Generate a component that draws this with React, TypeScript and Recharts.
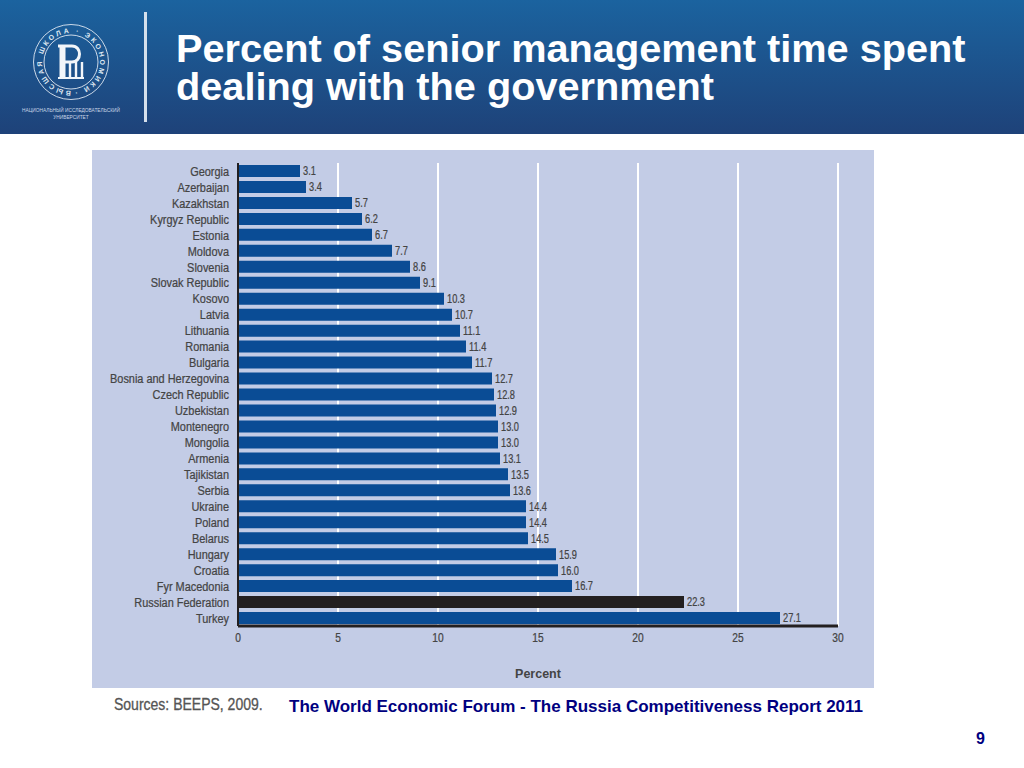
import React from 'react';
import { BarChart, Bar, XAxis, YAxis, CartesianGrid, Cell, LabelList } from 'recharts';

const countries = [
  'Georgia', 'Azerbaijan', 'Kazakhstan', 'Kyrgyz Republic', 'Estonia', 'Moldova', 'Slovenia', 'Slovak Republic',
  'Kosovo', 'Latvia', 'Lithuania', 'Romania', 'Bulgaria', 'Bosnia and Herzegovina', 'Czech Republic', 'Uzbekistan',
  'Montenegro', 'Mongolia', 'Armenia', 'Tajikistan', 'Serbia', 'Ukraine', 'Poland', 'Belarus', 'Hungary', 'Croatia',
  'Fyr Macedonia', 'Russian Federation', 'Turkey',
];
const percents = [
  3.1, 3.4, 5.7, 6.2, 6.7, 7.7, 8.6, 9.1, 10.3, 10.7, 11.1, 11.4, 11.7, 12.7, 12.8, 12.9, 13.0, 13.0, 13.1, 13.5,
  13.6, 14.4, 14.4, 14.5, 15.9, 16.0, 16.7, 22.3, 27.1,
];
const xTicks = [0, 5, 10, 15, 20, 25, 30];
const highlighted = 'Russian Federation';

const data = countries.map((country, i) => ({ country, percent: percents[i] }));

const sans = '"Liberation Sans", Arial, sans-serif';
const inkGrey = '#444';

// no condensed face installed, so the narrow print type is squeezed by hand
const CountryTick = ({ x, y, payload }: any) => (
  <text
    transform={`translate(${x},${y}) scale(0.81,1)`}
    textAnchor="end"
    dy="0.35em"
    fontFamily={sans}
    fontSize={13.5}
    fill={inkGrey}
    stroke={inkGrey}
    strokeWidth={0.25}
  >
    {payload.value}
  </text>
);

const PercentTick = ({ x, y, payload }: any) => (
  <text
    transform={`translate(${x},${y}) scale(0.85,1)`}
    textAnchor="middle"
    dy="0.71em"
    fontFamily={sans}
    fontSize={12}
    fill={inkGrey}
    stroke={inkGrey}
    strokeWidth={0.25}
  >
    {payload.value}
  </text>
);

const ValueLabel = ({ x, y, width, height, value }: any) => (
  <text
    transform={`translate(${x + width + 3},${y + height / 2}) scale(0.74,1)`}
    dy="0.35em"
    fontFamily={sans}
    fontSize={12.5}
    fill={inkGrey}
    stroke={inkGrey}
    strokeWidth={0.25}
  >
    {Number(value).toFixed(1)}
  </text>
);

const Logo = () => (
  <svg width={134} height={134} style={{ position: 'absolute', left: 0, top: 0 }}>
    <defs>
      <path id="ring" d="M 71 91 a 29 29 0 1 1 0.01 0" />
    </defs>
    <circle cx={71} cy={62} r={37.5} fill="none" stroke="#dfe8f2" strokeWidth={0.9} />
    <circle cx={71} cy={62} r={27} fill="none" stroke="#dfe8f2" strokeWidth={0.9} />
    <text fontSize={7} fontWeight={700} fill="#dfe8f2" fontFamily={sans}>
      <textPath href="#ring" textLength={178}>ВЫСШАЯ ШКОЛА · ЭКОНОМИКИ ·</textPath>
    </text>
    <g fill="none" stroke="#f2f6fa">
      <path d="M58 46 H72 C82 46 82 62 72 62 H64" strokeWidth={3} />
      <path d="M62.5 46 V78" strokeWidth={6} />
      <path d="M70 62 V77 M76 62 V77 M82 62 V77" strokeWidth={2.4} />
      <path d="M58 78 H84" strokeWidth={2} />
    </g>
    <text x={71} y={112} textAnchor="middle" fontSize={4.8} fontFamily={sans} fill="#c9d6e6">
      НАЦИОНАЛЬНЫЙ ИССЛЕДОВАТЕЛЬСКИЙ
    </text>
    <text x={71} y={118.5} textAnchor="middle" fontSize={4.8} fontFamily={sans} fill="#c9d6e6">
      УНИВЕРСИТЕТ
    </text>
  </svg>
);

export default function App() {
  return (
    <div style={{ position: 'absolute', left: 0, top: 0, width: 1024, height: 768, background: '#fff', overflow: 'hidden' }}>
      <div
        style={{
          position: 'absolute', left: 0, top: 0, width: 1024, height: 134,
          background: 'linear-gradient(180deg, #1b639f 0%, #1e4279 100%)',
        }}
      >
        <Logo />
        <div style={{ position: 'absolute', left: 144, top: 12, width: 3, height: 110, background: '#d5e0ec' }} />
        <div
          style={{
            position: 'absolute', left: 176, top: 29, width: 840, color: '#fff',
            fontFamily: sans, fontWeight: 700, fontSize: 39.7, lineHeight: '38px',
          }}
        >
          Percent of senior management time spent
          <br />
          dealing with the government
        </div>
      </div>

      <div style={{ position: 'absolute', left: 92, top: 150 }}>
        <BarChart
          width={782}
          height={538}
          data={data}
          layout="vertical"
          margin={{ top: 13, right: 36, bottom: 0, left: 0 }}
          barCategoryGap={2}
          style={{ background: '#c3cce6' }}
        >
          <CartesianGrid horizontal={false} stroke="#ffffff" strokeWidth={2} />
          <XAxis
            type="number"
            domain={[0, 30]}
            ticks={xTicks}
            height={62}
            axisLine={{ stroke: '#231f20', strokeWidth: 3 }}
            tickLine={false}
            tickSize={0}
            tickMargin={7}
            tick={<PercentTick />}
            label={{ value: 'Percent', position: 'insideBottom', offset: 10, fontFamily: sans, fontSize: 12.5, fontWeight: 700, fill: inkGrey }}
          />
          <YAxis
            type="category"
            dataKey="country"
            width={146}
            interval={0}
            axisLine={{ stroke: '#231f20', strokeWidth: 2 }}
            tickLine={false}
            tickSize={0}
            tickMargin={9}
            tick={<CountryTick />}
          />
          <Bar dataKey="percent" fill="#0a4c95" isAnimationActive={false}>
            {data.map((d) => (
              <Cell key={d.country} fill={d.country === highlighted ? '#231f20' : '#0a4c95'} />
            ))}
            <LabelList dataKey="percent" content={<ValueLabel />} />
          </Bar>
        </BarChart>
      </div>

      <div
        style={{
          position: 'absolute', left: 114, top: 696, fontFamily: sans, fontSize: 16, color: '#555',
          transform: 'scaleX(0.875)', transformOrigin: 'left center', whiteSpace: 'nowrap',
          WebkitTextStroke: '0.3px #555',
        }}
      >
        Sources: BEEPS, 2009.
      </div>
      <div style={{ position: 'absolute', left: 289, top: 697, fontFamily: sans, fontSize: 17, fontWeight: 700, color: '#000080' }}>
        The World Economic Forum - The Russia Competitiveness Report 2011
      </div>
      <div style={{ position: 'absolute', left: 976, top: 730, fontFamily: sans, fontSize: 16, fontWeight: 700, color: '#000080' }}>
        9
      </div>
    </div>
  );
}
